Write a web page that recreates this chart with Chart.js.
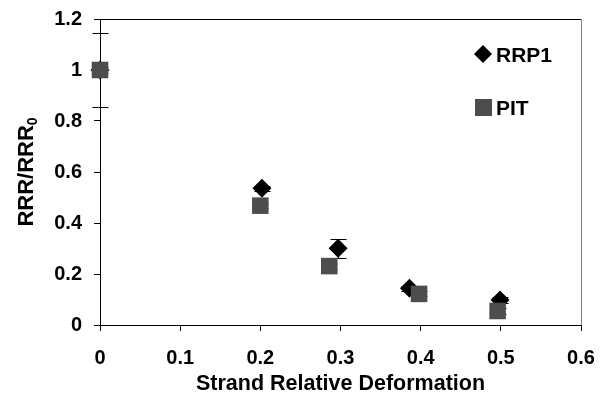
<!DOCTYPE html>
<html>
<head>
<meta charset="utf-8">
<script src="https://cdn.jsdelivr.net/npm/chart.js@4"></script>
<style>
  html, body { margin: 0; padding: 0; background: #fff; }
  #wrap { width: 610px; height: 394px; }
</style>
</head>
<body>
<div id="wrap"><canvas id="rrrChart" width="610" height="394"></canvas></div>
<script>
// data
const rrp1X = [0, 0.202, 0.297, 0.386, 0.499];
const rrp1Y = [1.0, 0.536, 0.301, 0.144, 0.098];
const rrp1Err = [0.146, 0.01, 0.038, 0.01, 0.01];

const pitX = [0, 0.2, 0.286, 0.398, 0.496];
const pitY = [1.0, 0.468, 0.231, 0.122, 0.055];
const pitErr = [0.01, 0.01, 0.01, 0.01, 0.01];

const xTicks = [0, 0.1, 0.2, 0.3, 0.4, 0.5, 0.6];
const yTicks = [0, 0.2, 0.4, 0.6, 0.8, 1.0, 1.2];

const seriesNames = ["RRP1", "PIT"];

const FONT = "'Liberation Sans', Arial, sans-serif";

function toPoints(xs, ys) {
  return xs.map((x, i) => ({ x: x, y: ys[i] }));
}

// vertical error bars with caps, drawn under the markers
const errorBars = {
  id: "errorBars",
  beforeDatasetsDraw(chart) {
    const ctx = chart.ctx;
    const xs = chart.scales.x;
    const ys = chart.scales.y;
    const sets = [[rrp1X, rrp1Y, rrp1Err], [pitX, pitY, pitErr]];
    ctx.save();
    ctx.strokeStyle = "#000";
    ctx.lineWidth = 1;
    sets.forEach(([px, py, pe]) => {
      px.forEach((x, i) => {
        const cx = Math.round(xs.getPixelForValue(x)) + 0.5;
        const top = Math.round(ys.getPixelForValue(py[i] + pe[i])) + 0.5;
        const bot = Math.round(ys.getPixelForValue(py[i] - pe[i])) + 0.5;
        ctx.beginPath();
        ctx.moveTo(cx, top);
        ctx.lineTo(cx, bot);
        ctx.moveTo(cx - 8, top);
        ctx.lineTo(cx + 8, top);
        ctx.moveTo(cx - 8, bot);
        ctx.lineTo(cx + 8, bot);
        ctx.stroke();
      });
    });
    ctx.restore();
  },
};

// top/right frame, y title with subscript and the in-plot legend
const extras = {
  id: "extras",
  afterDraw(chart) {
    const ctx = chart.ctx;
    const a = chart.chartArea;
    ctx.save();
    ctx.lineWidth = 1;
    ctx.strokeStyle = "#000";
    ctx.beginPath();
    ctx.moveTo(a.left, a.top + 0.5);
    ctx.lineTo(a.right, a.top + 0.5);
    ctx.stroke();
    ctx.strokeStyle = "#808080";
    ctx.beginPath();
    ctx.moveTo(a.right + 0.5, a.top);
    ctx.lineTo(a.right + 0.5, a.bottom);
    ctx.stroke();

    // y axis title
    ctx.fillStyle = "#000";
    const main = "RRR/RRR";
    ctx.font = "bold 22px " + FONT;
    const w1 = ctx.measureText(main).width;
    ctx.font = "bold 14px " + FONT;
    const w2 = ctx.measureText("0").width;
    ctx.translate(33, (a.top + a.bottom) / 2);
    ctx.rotate(-Math.PI / 2);
    ctx.textAlign = "left";
    ctx.textBaseline = "alphabetic";
    ctx.font = "bold 22px " + FONT;
    ctx.fillText(main, -(w1 + w2) / 2, 0);
    ctx.font = "bold 14px " + FONT;
    ctx.fillText("0", -(w1 + w2) / 2 + w1, 4);
    ctx.restore();

    // legend
    ctx.save();
    ctx.font = "bold 21px " + FONT;
    ctx.textBaseline = "middle";
    ctx.textAlign = "left";
    ctx.fillStyle = "#000";
    ctx.beginPath();
    ctx.moveTo(483, 45);
    ctx.lineTo(492, 54);
    ctx.lineTo(483, 63);
    ctx.lineTo(474, 54);
    ctx.closePath();
    ctx.fill();
    ctx.fillText(seriesNames[0], 496, 56);
    ctx.fillStyle = "#4d4d4d";
    ctx.fillRect(475, 99, 17, 17);
    ctx.fillStyle = "#000";
    ctx.fillText(seriesNames[1], 496, 109);
    ctx.restore();
  },
};

const ctx = document.getElementById("rrrChart").getContext("2d");

new Chart(ctx, {
  type: "scatter",
  data: {
    datasets: [
      {
        label: seriesNames[0],
        data: toPoints(rrp1X, rrp1Y),
        pointStyle: "rectRot",
        pointRadius: 9.5,
        pointHoverRadius: 9.5,
        backgroundColor: "#000",
        borderColor: "#000",
        borderWidth: 0,
        clip: false,
        order: 1,
      },
      {
        label: seriesNames[1],
        data: toPoints(pitX, pitY),
        pointStyle: "rect",
        pointRadius: 11.7,
        pointHoverRadius: 11.7,
        backgroundColor: "#4d4d4d",
        borderColor: "#4d4d4d",
        borderWidth: 0,
        clip: false,
        order: 0,
      },
    ],
  },
  options: {
    responsive: false,
    animation: false,
    events: [],
    layout: { autoPadding: false, padding: { top: 19, right: 29, left: 0, bottom: 0 } },
    plugins: {
      legend: { display: false },
      tooltip: { enabled: false },
    },
    scales: {
      x: {
        type: "linear",
        min: 0,
        max: 0.6,
        afterFit: (scale) => {
          scale.height = 69;
          scale.paddingLeft = 0;
          scale.paddingRight = 0;
        },
        afterBuildTicks: (scale) => { scale.ticks = xTicks.map((v) => ({ value: v })); },
        grid: { drawOnChartArea: false, drawTicks: true, tickLength: 6, color: "#000" },
        border: { color: "#000", width: 1 },
        ticks: {
          color: "#000",
          padding: 15,
          maxRotation: 0,
          font: { family: FONT, size: 20, weight: "bold" },
          callback: (v) => String(Math.round(v * 10) / 10),
        },
        title: {
          display: true,
          text: "Strand Relative Deformation",
          color: "#000",
          padding: { top: 0, bottom: -3 },
          font: { family: FONT, size: 21.5, weight: "bold" },
        },
      },
      y: {
        type: "linear",
        min: 0,
        max: 1.2,
        afterFit: (scale) => {
          scale.width = 100;
          scale.paddingTop = 0;
          scale.paddingBottom = 0;
        },
        afterBuildTicks: (scale) => { scale.ticks = yTicks.map((v) => ({ value: v })); },
        grid: { drawOnChartArea: false, drawTicks: true, tickLength: 6, color: "#000" },
        border: { color: "#000", width: 1 },
        ticks: {
          color: "#000",
          padding: 12,
          font: { family: FONT, size: 20, weight: "bold" },
          callback: (v) => String(Math.round(v * 10) / 10),
        },
      },
    },
  },
  plugins: [errorBars, extras],
});
</script>
</body>
</html>
